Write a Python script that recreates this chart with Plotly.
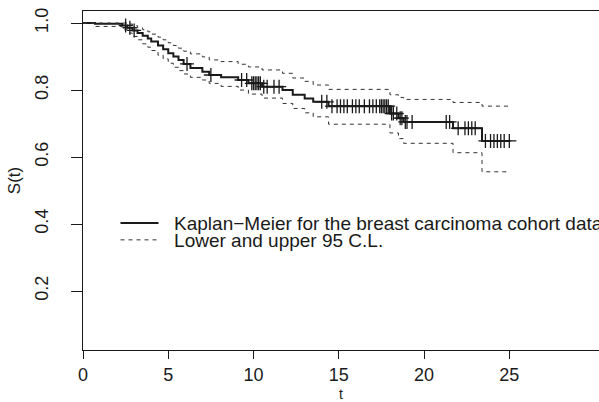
import numpy as np
import plotly.graph_objects as go

# Kaplan-Meier step function (event times, survival, lower/upper 95% limits)
km_time = [0, 0.7, 2.3, 2.6, 2.9, 3.2, 3.5, 3.8, 4.0, 4.4, 4.7, 5.0, 5.3, 5.6, 5.9, 6.3,
           7.0, 7.4, 8.1, 9.1, 9.7, 10.5, 11.7, 12.3, 13.0, 13.5, 14.4, 18.0, 18.5, 18.8,
           21.7, 23.4, 25.0]
km_surv = [1.000, 0.998, 0.993, 0.986, 0.978, 0.970, 0.962, 0.954, 0.945, 0.933, 0.922,
           0.910, 0.900, 0.890, 0.878, 0.866, 0.855, 0.845, 0.838, 0.830, 0.820, 0.810,
           0.800, 0.786, 0.775, 0.765, 0.752, 0.730, 0.716, 0.705, 0.686, 0.648, 0.648]
km_lower = [1.000, 0.990, 0.980, 0.970, 0.960, 0.950, 0.938, 0.928, 0.918, 0.904, 0.893,
            0.880, 0.868, 0.858, 0.848, 0.838, 0.830, 0.820, 0.811, 0.800, 0.788, 0.776,
            0.760, 0.745, 0.732, 0.720, 0.698, 0.672, 0.655, 0.641, 0.613, 0.556, 0.556]
km_upper = [1.000, 1.000, 1.000, 0.997, 0.992, 0.986, 0.980, 0.974, 0.967, 0.958, 0.950,
            0.941, 0.933, 0.925, 0.916, 0.908, 0.899, 0.890, 0.885, 0.877, 0.869, 0.860,
            0.850, 0.836, 0.826, 0.815, 0.802, 0.786, 0.778, 0.772, 0.763, 0.752, 0.752]

# censoring times
cens_time = [2.5, 2.75, 3.0, 6.1, 7.5, 9.3, 9.6, 9.9, 10.0, 10.1, 10.2, 10.3, 10.4, 10.6,
             10.8, 11.2, 11.5, 14.0, 14.3, 14.6, 14.9, 15.1, 15.3, 15.5, 15.8, 16.0, 16.2,
             16.5, 16.8, 17.0, 17.2, 17.4, 17.5, 17.6, 17.7, 17.8, 17.9, 18.1, 18.2,
             18.4, 18.6, 18.7, 18.9, 19.0, 19.3, 21.3, 21.5, 22.0, 22.4, 22.6, 22.8,
             23.0, 23.6, 23.9, 24.1, 24.3, 24.5, 24.7, 25.0]

x_ticks = [0, 5, 10, 15, 20, 25]
y_ticks = [0.2, 0.4, 0.6, 0.8, 1.0]
y_tick_text = ["0.2", "0.4", "0.6", "0.8", "1.0"]

idx = np.searchsorted(np.array(km_time), np.array(cens_time), side="right") - 1
cens_surv = np.array(km_surv)[idx]

FONT = "Liberation Sans, Arial, Helvetica, sans-serif"
INK = "#1a1a1a"

fig = go.Figure()
fig.add_trace(go.Scatter(x=km_time, y=km_surv, mode="lines", line_shape="hv",
                         line=dict(color=INK, width=2), legend="legend",
                         name="  Kaplan\u2212Meier for the breast carcinoma cohort data"))
fig.add_trace(go.Scatter(x=km_time, y=km_lower, mode="lines", line_shape="hv",
                         line=dict(color="#333333", width=1, dash="4px,4px"),
                         legend="legend2", name="  Lower and upper 95 C.L."))
fig.add_trace(go.Scatter(x=km_time, y=km_upper, mode="lines", line_shape="hv",
                         line=dict(color="#333333", width=1, dash="4px,4px"),
                         showlegend=False))
fig.add_trace(go.Scatter(x=cens_time, y=cens_surv, mode="markers",
                         marker=dict(symbol="cross-thin-open", size=10, color=INK,
                                     line=dict(color=INK, width=1.3)),
                         showlegend=False))

leg_common = dict(xanchor="left", yanchor="middle", bgcolor="rgba(0,0,0,0)",
                  font=dict(size=19, family=FONT, color=INK), itemwidth=38)

fig.update_layout(
    width=599, height=402,
    margin=dict(l=83, r=0, t=11, b=52, autoexpand=False),
    paper_bgcolor="white", plot_bgcolor="white",
    font=dict(family=FONT, size=18, color=INK),
    legend=dict(x=0.063, y=0.3745, **leg_common),
    legend2=dict(x=0.063, y=0.3245, **leg_common),
    xaxis=dict(range=[0, 30.26], tickvals=x_ticks, ticks="outside", ticklen=8,
               tickcolor=INK, showline=True, linecolor=INK, linewidth=1,
               mirror=True, showgrid=False, zeroline=False,
               title=dict(text="t", font=dict(size=14), standoff=12),
               tickfont=dict(size=18)),
    yaxis=dict(range=[0.024, 1.036], tickvals=y_ticks, ticktext=y_tick_text,
               ticks="outside", ticklen=11, tickcolor=INK, tickangle=-90,
               ticklabelstandoff=16,
               showline=True, linecolor=INK, linewidth=1, showgrid=False,
               zeroline=False, title=dict(text="S(t)", font=dict(size=17), standoff=6),
               tickfont=dict(size=18)),
)

fig.write_html("out.html")
